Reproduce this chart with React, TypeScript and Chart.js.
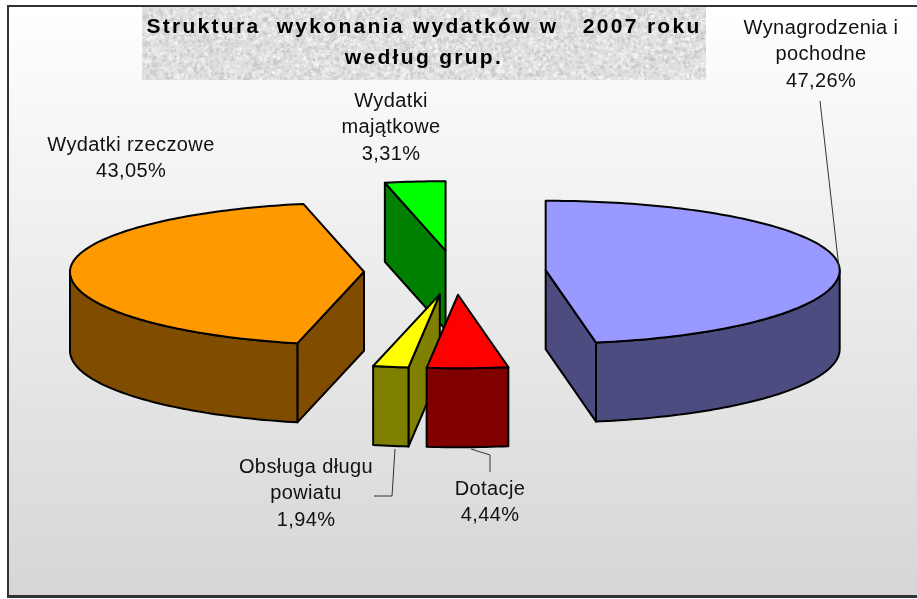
import React, { useEffect, useRef } from "react";
import { Chart, registerables } from "chart.js";

Chart.register(...registerables);

const categories = ["Wynagrodzenia i pochodne", "Dotacje", "Obsługa długu powiatu", "Wydatki rzeczowe", "Wydatki majątkowe"];
const values = [47.26, 4.44, 1.94, 43.05, 3.31];
const valueLabels = ["47,26%", "4,44%", "1,94%", "43,05%", "3,31%"];
const labelLines = [["Wynagrodzenia i", "pochodne"], ["Dotacje"], ["Obsługa długu", "powiatu"], ["Wydatki rzeczowe"], ["Wydatki", "majątkowe"]];
const colors = ["#9999FF", "#FF0000", "#FFFF00", "#FF9900", "#00FF00"];
const wallColors = ["#4C4C80", "#800000", "#808000", "#804C00", "#008000"];
const titleLines = ["Struktura  wykonania wydatków w   2007 roku", "według grup."];

// paint order of the slices, back to front
const paintOrder = [4, 3, 0, 2, 1];
const labelCenters = [[821, 28], [490, 489], [306, 467], [131, 145], [391, 101]];
const leaders = [
  [[820, 101], [839, 268]],
  [[471, 449], [490, 455], [490, 472]],
  [[395, 449], [392, 496], [374, 496]],
  [],
  [],
];

const SQUASH_FRONT = 0.25;
const SQUASH_BACK = 0.236;
const DEPTH = 79;
const FRAME = { l: 7, t: 5, r: 917, b: 596 };

function project(cx: number, cy: number, r: number, a: number, z = 0) {
  // a: angle clockwise from the top of the pie
  const dy = -Math.cos(a) * r;
  return [cx + Math.sin(a) * r, cy + dy * (dy > 0 ? SQUASH_FRONT : SQUASH_BACK) + z];
}

function texture() {
  const c = document.createElement("canvas");
  c.width = 564;
  c.height = 73;
  const g = c.getContext("2d")!;
  g.fillStyle = "#e0e0e0";
  g.fillRect(0, 0, c.width, c.height);
  let s = 12345;
  const next = () => {
    s = (s * 16807) % 2147483647;
    return s / 2147483647;
  };
  g.filter = "blur(0.7px)";
  for (let i = 0; i < 6000; i++) {
    const v = next() > 0.5 ? 250 : 195;
    g.fillStyle = `rgba(${v},${v},${v},${0.3 + next() * 0.35})`;
    g.fillRect(next() * c.width, next() * c.height, 1 + next() * 3, 1 + next() * 3);
  }
  return c;
}

const pie3d = {
  id: "pie3d",
  beforeDraw(chart: any) {
    const ctx = chart.ctx;
    ctx.save();
    ctx.fillStyle = "#ffffff";
    ctx.fillRect(0, 0, chart.width, chart.height);
    const grad = ctx.createLinearGradient(0, FRAME.t, 0, FRAME.b);
    grad.addColorStop(0, "#ffffff");
    grad.addColorStop(1, "#d6d6d6");
    ctx.fillStyle = grad;
    ctx.fillRect(FRAME.l, FRAME.t, FRAME.r - FRAME.l, FRAME.b - FRAME.t);
    ctx.fillStyle = "#333333";
    ctx.fillRect(FRAME.l, FRAME.t, FRAME.r - FRAME.l, 2);
    ctx.fillRect(FRAME.l, FRAME.t, 2, FRAME.b - FRAME.t);
    ctx.fillRect(FRAME.l, FRAME.b - 1, FRAME.r - FRAME.l, 3);
    ctx.drawImage(texture(), 142, 7);
    ctx.fillStyle = "#000000";
    ctx.textAlign = "center";
    ctx.textBaseline = "middle";
    ctx.font = "bold 21px 'Liberation Sans', Arial, sans-serif";
    (ctx as any).letterSpacing = "2.3px";
    titleLines.forEach((t, i) => ctx.fillText(t, 424, 27 + i * 31));
    ctx.restore();
  },
  beforeDatasetDraw(chart: any) {
    const ctx = chart.ctx;
    const arcs = chart.getDatasetMeta(0).data;
    ctx.save();
    ctx.lineWidth = 2;
    ctx.lineJoin = "round";
    ctx.strokeStyle = "#000000";
    for (const i of paintOrder) {
      const el = arcs[i];
      const a0 = el.startAngle + Math.PI / 2;
      const a1 = el.endAngle + Math.PI / 2;
      const r = el.outerRadius;
      const mid = (a0 + a1) / 2;
      const off = (el.options.offset || 0) / 4;
      const apex = project(el.x, el.y, off, mid);
      const cx = apex[0];
      const cy = apex[1];
      const arcPts = (from: number, to: number, z = 0) => {
        const n = Math.max(2, Math.ceil(Math.abs(to - from) / 0.02));
        const pts: number[][] = [];
        for (let k = 0; k <= n; k++) pts.push(project(cx, cy, r, from + ((to - from) * k) / n, z));
        return pts;
      };
      const poly = (pts: number[][], fill: string) => {
        ctx.beginPath();
        pts.forEach((p, k) => (k ? ctx.lineTo(p[0], p[1]) : ctx.moveTo(p[0], p[1])));
        ctx.closePath();
        ctx.fillStyle = fill;
        ctx.fill();
        ctx.stroke();
      };
      const wall = wallColors[i];
      const radial = (a: number) => {
        const p = project(cx, cy, r, a);
        poly([[cx, cy], p, [p[0], p[1] + DEPTH], [cx, cy + DEPTH]], wall);
      };
      if (Math.sin(a0) < -1e-6) radial(a0);
      if (Math.sin(a1) > 1e-6) radial(a1);
      const f0 = Math.max(a0, Math.PI / 2);
      const f1 = Math.min(a1, (3 * Math.PI) / 2);
      if (f1 > f0) poly([...arcPts(f0, f1), ...arcPts(f1, f0, DEPTH)], wall);
      poly([[cx, cy], ...arcPts(a0, a1)], colors[i]);
    }
    ctx.restore();
    return false;
  },
  afterDraw(chart: any) {
    const ctx = chart.ctx;
    ctx.save();
    ctx.strokeStyle = "#333333";
    ctx.lineWidth = 1;
    leaders.forEach((pts) => {
      if (!pts.length) return;
      ctx.beginPath();
      pts.forEach((p, k) => (k ? ctx.lineTo(p[0], p[1]) : ctx.moveTo(p[0], p[1])));
      ctx.stroke();
    });
    ctx.fillStyle = "#111111";
    ctx.textAlign = "center";
    ctx.textBaseline = "middle";
    ctx.font = "20px 'Liberation Sans', Arial, sans-serif";
    (ctx as any).letterSpacing = "0.4px";
    categories.forEach((_, i) => {
      const lines = [...labelLines[i], valueLabels[i]];
      lines.forEach((t, k) => ctx.fillText(t, labelCenters[i][0], labelCenters[i][1] + k * 26.5));
    });
    ctx.restore();
  },
};

export default function App() {
  const ref = useRef<HTMLCanvasElement>(null);
  useEffect(() => {
    const chart = new Chart(ref.current!, {
      type: "pie",
      data: {
        labels: categories,
        datasets: [{ data: values, backgroundColor: colors, offset: 364, borderWidth: 0 }],
      },
      options: {
        animation: false,
        responsive: false,
        radius: 294,
        layout: { padding: { left: 0, top: 0, right: 7, bottom: 55 } },
        plugins: { legend: { display: false }, tooltip: { enabled: false }, title: { display: false } },
      } as any,
      plugins: [pie3d],
    });
    return () => chart.destroy();
  }, []);
  return <canvas ref={ref} width={917} height={599} style={{ position: "fixed", left: 0, top: 0, display: "block" }} />;
}
